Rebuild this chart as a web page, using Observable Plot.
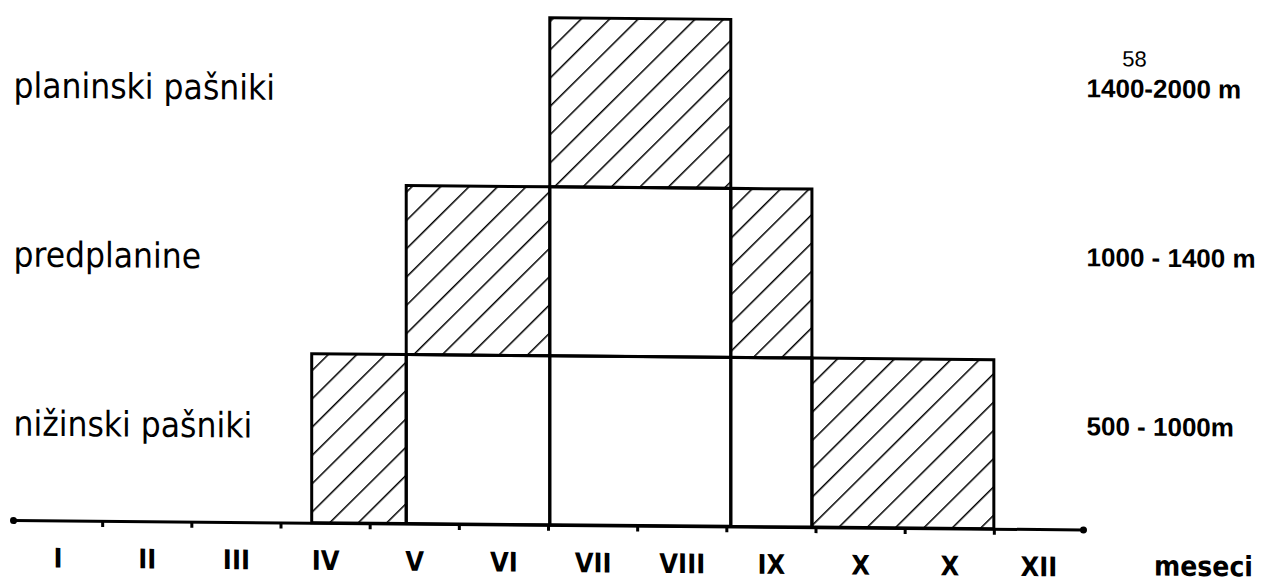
<!DOCTYPE html>
<html><head><meta charset="utf-8">
<script src="https://cdn.jsdelivr.net/npm/d3@7"></script>
<script src="https://cdn.jsdelivr.net/npm/@observablehq/plot@0.6"></script>
<style>
body{margin:0;background:#fff;overflow:hidden;}
#chart svg{display:block;transform:skewY(0.5deg);transform-origin:0 0;}
</style></head><body><div id="chart"></div>
<script>
// Altitude zones (bottom to top) and their ranges
const zones = ["nižinski pašniki", "predplanine", "planinski pašniki"];
const altitudes = ["500 - 1000m", "1000 - 1400 m", "1400-2000 m"];
// Month labels (as written in the original, incl. the repeated "X")
const months = ["I","II","III","IV","V","VI","VII","VIII","IX","X","X","XII"];
const axisTitle = "meseci";
const pageNumber = "58";
// Grazing cells: zone index, start month, end month, hatched (used) or not
const cellZone    = [0, 0, 0, 0, 0, 1, 1, 1, 2];
const cellStart   = [3.35, 4.41, 6.02, 8.05, 8.96, 4.41, 6.02, 8.05, 6.02];
const cellEnd     = [4.41, 6.02, 8.05, 8.96, 11.0, 6.02, 8.05, 8.96, 8.05];
const cellHatched = [true, false, false, false, true, true, false, true, true];

const cells = cellZone.map((z, i) => ({zone: z, x1: cellStart[i], x2: cellEnd[i], hatched: cellHatched[i]}));
const boundaries = d3.range(1, months.length);
const monthData = months.map((m, i) => ({label: m, x: i + 0.5}));

const hand = "'Liberation Sans Narrow', 'DejaVu Sans Condensed', 'Liberation Sans', sans-serif";

const chart = Plot.plot({
  width: 1267,
  height: 584,
  marginLeft: 13,
  marginRight: 184,
  marginTop: 13,
  marginBottom: 64,
  x: {domain: [0, months.length], axis: null},
  y: {domain: [0, zones.length], axis: null},
  style: {background: "white", color: "black"},
  marks: [
    Plot.rect(cells.filter(d => d.hatched), {x1: "x1", x2: "x2", y1: d => d.zone, y2: d => d.zone + 1, fill: "url(#hatch)", stroke: "black", strokeWidth: 3}),
    Plot.rect(cells.filter(d => !d.hatched), {x1: "x1", x2: "x2", y1: d => d.zone, y2: d => d.zone + 1, fill: "none", stroke: "black", strokeWidth: 3}),
    Plot.axisX({ticks: boundaries, tickSize: 6, tickFormat: () => "", strokeWidth: 3, anchor: "bottom"}),
    Plot.ruleY([0], {x1: 0, x2: months.length, stroke: "black", strokeWidth: 3}),
    Plot.dot([0, months.length], {x: d => d, y: 0, r: 3.5, fill: "black"}),
    Plot.text(monthData, {x: "x", y: 0, text: "label", dy: 38, fontSize: 27, fontWeight: "bold", fontFamily: hand, lineAnchor: "middle"}),
    Plot.text([axisTitle], {x: months.length, y: 0, text: d => d, dx: 120, dy: 36, fontSize: 28, fontWeight: "bold", fontFamily: hand, lineAnchor: "middle"}),
    Plot.text(zones, {x: 0, y: (d, i) => i + 0.57, text: d => d, textAnchor: "start", fontSize: 35, fontFamily: hand, lineAnchor: "middle"}),
    Plot.text(altitudes, {x: months.length, y: (d, i) => i + 0.61, text: d => d, dx: 3, textAnchor: "start", fontSize: 26, fontWeight: "bold", fontFamily: "'Liberation Sans', sans-serif", lineAnchor: "middle"}),
    Plot.text([pageNumber], {x: months.length, y: zones.length, text: d => d, dx: 51, dy: 36, fontSize: 22, fontFamily: "'Liberation Sans', sans-serif", lineAnchor: "middle"})
  ]
});

const defs = document.createElementNS("http://www.w3.org/2000/svg", "defs");
defs.innerHTML = '<pattern id="hatch" patternUnits="userSpaceOnUse" width="20" height="20" patternTransform="rotate(45)"><rect width="20" height="20" fill="white"/><line x1="0" y1="-1" x2="0" y2="21" stroke="black" stroke-width="3"/></pattern>';
chart.insertBefore(defs, chart.firstChild);
document.getElementById("chart").appendChild(chart);
</script>
</body></html>
